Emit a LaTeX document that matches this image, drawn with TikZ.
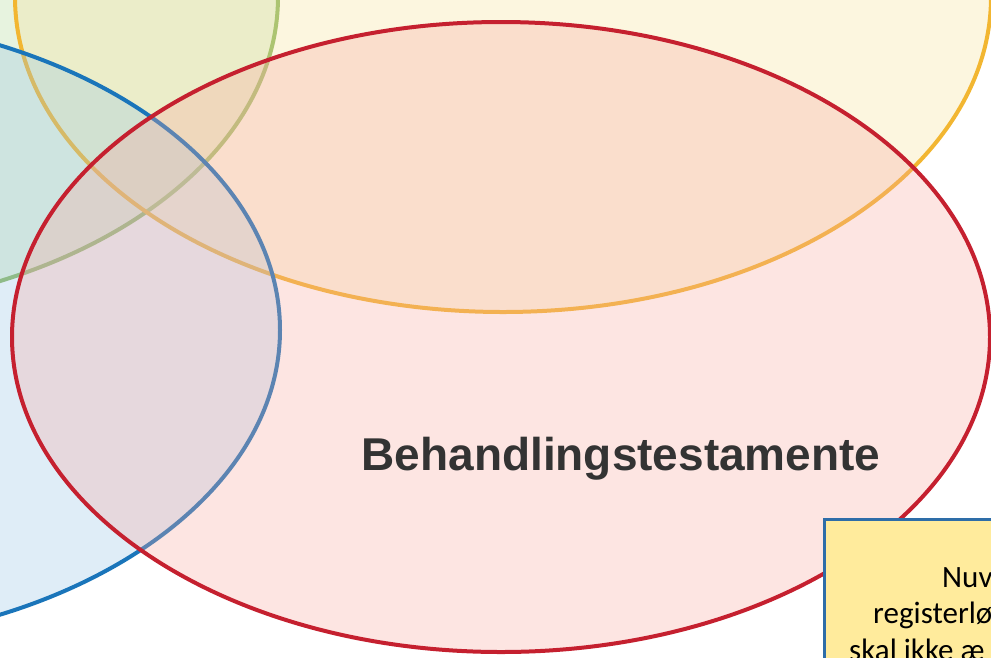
\documentclass[tikz,border=0pt]{standalone}
\usepackage{fontspec}
\setmainfont{Liberation Sans}
\newfontfamily\notefont{Carlito}

\definecolor{greenline}{HTML}{8DB861}
\definecolor{greenfill}{RGB}{175,215,150}
\definecolor{yellowline}{HTML}{F2B631}
\definecolor{yellowfill}{RGB}{245,224,150}
\definecolor{blueline}{HTML}{1A75BA}
\definecolor{bluefill}{RGB}{150,196,228}
\definecolor{redline}{HTML}{C5202F}
\definecolor{redfill}{RGB}{247,168,160}
\definecolor{textgray}{HTML}{333333}
\definecolor{noteline}{HTML}{2E6DA8}
\definecolor{notefill}{HTML}{FFEB9C}

\tikzset{
  venn/.style={line width=4pt, fill opacity=.3},
  notetext/.style={anchor=base west, inner sep=0pt, font=\notefont\fontsize{31}{37}\selectfont}
}

\begin{document}
\begin{tikzpicture}[x=1pt,y=-1pt]
\useasboundingbox (0,0) rectangle (991,657);
\clip (0,0) rectangle (991,657);

\filldraw[venn, draw=greenline, fill=greenfill] (-212,-3) ellipse [x radius=490, y radius=315];
\filldraw[venn, draw=yellowline, fill=yellowfill] (503,-3) ellipse [x radius=488, y radius=315];
\filldraw[venn, draw=blueline, fill=bluefill] (-210,330) ellipse [x radius=490, y radius=315];
\filldraw[venn, draw=redline, fill=redfill] (501,337) ellipse [x radius=489, y radius=315];

\node[anchor=base, inner sep=0pt, text=textgray, font=\bfseries\fontsize{46}{55}\selectfont] (behandling) at (621,470) {Behandlingstestamente};

\draw[line width=3pt, draw=noteline, fill=notefill] (824,519) rectangle (1010,680);
\node[notetext] (nuv) at (942,587) {Nuv};
\node[notetext] (register) at (873,623) {registerlø};
\node[notetext] (skal) at (849,660) {skal ikke æ};
\end{tikzpicture}
\end{document}
